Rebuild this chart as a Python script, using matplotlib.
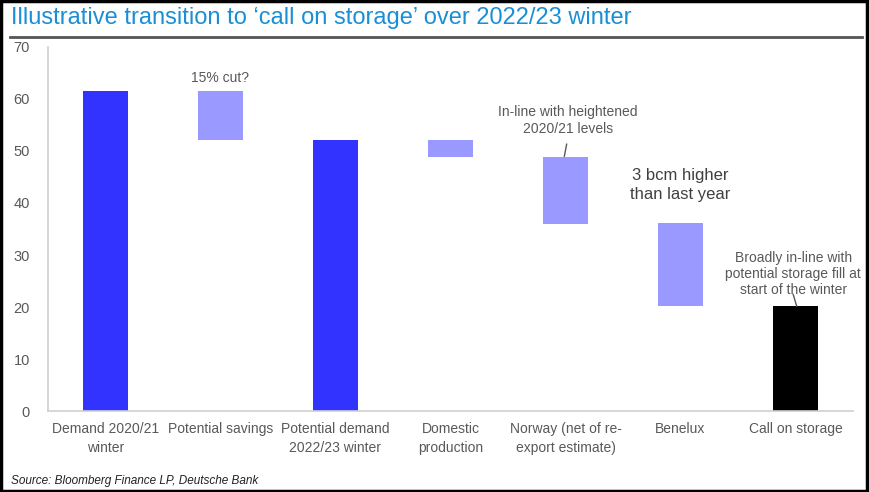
import matplotlib.pyplot as plt
from matplotlib.patches import Rectangle

plt.rcParams['font.family'] = ['Liberation Sans', 'DejaVu Sans']

categories = ['Demand 2020/21\nwinter', 'Potential savings', 'Potential demand\n2022/23 winter',
              'Domestic\nproduction', 'Norway (net of re-\nexport estimate)', 'Benelux', 'Call on storage']
heights = [61.5, 9.4, 52.1, 3.2, 12.9, 16.0, 20.2]
bottoms = [0, 52.1, 0, 48.9, 36.0, 20.2, 0]
colors = ['#3333ff', '#9999ff', '#3333ff', '#9999ff', '#9999ff', '#9999ff', '#000000']

grey = '#595959'

fig = plt.figure(figsize=(8.69, 4.92), dpi=100)
ax = fig.add_axes([0.0552, 0.1646, 0.9264, 0.7399])

x = list(range(len(categories)))
ax.bar(x, heights, bottom=bottoms, width=0.39, color=colors)

ax.set_xlim(-0.5, 6.5)
ax.set_ylim(0, 70)
ax.set_yticks(range(0, 71, 10))
ax.set_xticks(x)
ax.set_xticklabels(categories, fontsize=10, color=grey, linespacing=1.4)
ax.tick_params(axis='y', length=0, labelsize=10.5, labelcolor=grey, pad=13)
ax.tick_params(axis='x', length=0, pad=8)
for s in ['top', 'right']:
    ax.spines[s].set_visible(False)
ax.spines['left'].set_color('#d0d0d0')
ax.spines['bottom'].set_color('#d0d0d0')
ax.spines['left'].set_linewidth(1.2)
ax.spines['bottom'].set_linewidth(1.2)

# annotations
ax.text(1, 64.1, '15% cut?', ha='center', va='center', fontsize=10, color=grey)
ax.text(4.02, 55.9, 'In-line with heightened\n2020/21 levels', ha='center', va='center',
        fontsize=10, color=grey, linespacing=1.25)
ax.plot([3.99, 4.01], [49.0, 51.3], color=grey, lw=1)
ax.text(5.0, 43.4, '3 bcm higher\nthan last year', ha='center', va='center',
        fontsize=12, color='#404040', linespacing=1.35)
ax.text(5.98, 26.3, 'Broadly in-line with\npotential storage fill at\nstart of the winter',
        ha='center', va='center', fontsize=10, color=grey, linespacing=1.2)
ax.plot([5.98, 6.01], [22.4, 20.2], color=grey, lw=1)

# title, rule and source
fig.text(0.0125, 0.963, 'Illustrative transition to \u2018call on storage\u2019 over 2022/23 winter',
         fontsize=17, color='#1a8fd6', va='center', ha='left')
fig.add_artist(plt.Line2D([0.0115, 0.992], [0.925, 0.925], color='#555555', lw=2))
fig.text(0.0125, 0.022, 'Source: Bloomberg Finance LP, Deutsche Bank', fontsize=8.5,
         style='italic', color='#222222', va='center', ha='left')

fig.add_artist(Rectangle((0.001, 0.002), 0.997, 0.995, transform=fig.transFigure,
                         fill=False, edgecolor='black', lw=2.5))

fig.savefig('out.png', dpi=100)
